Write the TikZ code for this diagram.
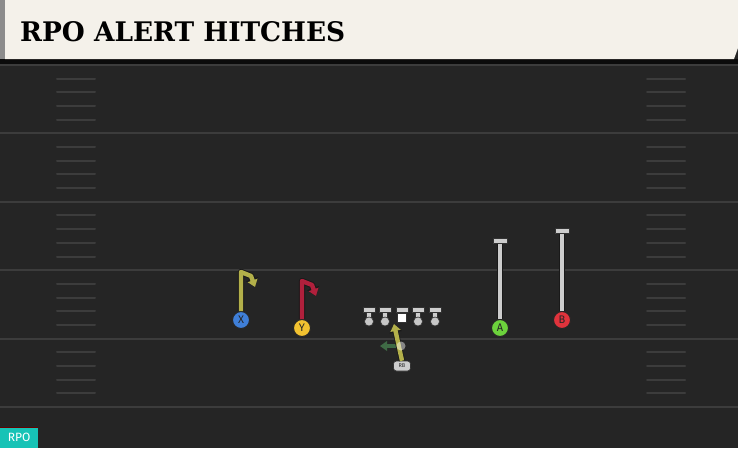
\documentclass[tikz,border=0pt]{standalone}
\usepackage{fontspec}
\usepackage{graphicx}
\setsansfont{Fira Sans}
\newfontfamily\titlefont{DejaVu Serif}
\usetikzlibrary{arrows.meta}

\definecolor{field}{HTML}{252525}
\definecolor{yard}{HTML}{3C3C3C}
\definecolor{banner}{HTML}{F4F1EA}
\definecolor{olive}{HTML}{B3B04A}
\definecolor{crimson}{HTML}{B0203C}
\definecolor{optgreen}{HTML}{3F6A45}
\definecolor{routegrey}{HTML}{CDCDCD}
\definecolor{xblue}{HTML}{3F7FD8}
\definecolor{yyellow}{HTML}{F2C230}
\definecolor{agreen}{HTML}{6CD23C}
\definecolor{bred}{HTML}{E0333C}
\definecolor{rpoteal}{HTML}{17C3B6}

\begin{document}
\begin{tikzpicture}[
		x=1pt,
		y=-1pt,
		line join=round,
		yardline/.style={draw=yard, line width=2pt},
		hashmark/.style={draw=yard, line width=2pt, line cap=round},
		player/.style={circle, draw=black!85, line width=1pt, minimum size=17pt, inner sep=0pt,
			font=\sffamily\fontsize{11}{11}\selectfont, text=black!85},
		routeline/.style={line width=4.4pt},
		routeedge/.style={line width=6.4pt, draw=black!90},
		tipin/.style={-{Triangle[length=7pt,width=10pt]}},
		tipout/.style={-{Triangle[length=8.5pt,width=12.5pt]}},
		olpiece/.style={fill=routegrey, draw=black!80, line width=0.7pt}
	]

	% Field and frame
	\useasboundingbox (0,0) rectangle (738,448);
	\fill[field] (0,0) rectangle (738,448);
	\fill[black!70!field] (0,59) rectangle (738,64);
	\fill[black!45] (0,0) rectangle (5,59);
	\fill[banner] (5,0) -- (738,0) -- (738,48) -- (734,59) -- (5,59) -- cycle;
	\node[anchor=west, inner sep=0pt] (title) at (20,32)
		{\resizebox{325pt}{20pt}{\titlefont\bfseries RPO ALERT HITCHES}};

	% Yard lines and hashes
	\foreach \i in {0,...,5}
		\draw[yardline] (0,65+68.4*\i) -- (738,65+68.4*\i);
	\foreach \i in {0,...,4}
		\foreach \k in {1,...,4}{
			\draw[hashmark] (57,65+68.4*\i+13.68*\k) -- (95,65+68.4*\i+13.68*\k);
			\draw[hashmark] (647,65+68.4*\i+13.68*\k) -- (685,65+68.4*\i+13.68*\k);
		}

	% Receivers
	\node[player, fill=xblue] (X) at (241,320) {X};
	\node[player, fill=yyellow] (Y) at (302,328) {Y};
	\node[player, fill=agreen] (A) at (500,328) {A};
	\node[player, fill=bred] (B) at (562,320) {B};

	% Hitch routes
	\coordinate (xtop) at (241,272);
	\coordinate (xend) at (255,287);
	\draw[routeedge, tipout] (X.north) -- (xtop) -- (251,276) -- (xend);
	\draw[routeline, olive, tipin] (X.north) -- (xtop) -- (251,276) -- (xend);
	\coordinate (ytop) at (302,281);
	\coordinate (yend) at (316,296);
	\draw[routeedge, tipout] (Y.north) -- (ytop) -- (312,285) -- (yend);
	\draw[routeline, crimson, tipin] (Y.north) -- (ytop) -- (312,285) -- (yend);

	% Stop routes
	\coordinate (atop) at (500,242);
	\coordinate (btop) at (562,232);
	\draw[routeedge] (A.north) -- (atop);
	\draw[routeline, routegrey] (A.north) -- (atop);
	\draw[olpiece] (493,238.5) rectangle (507,243.5);
	\draw[routeedge] (B.north) -- (btop);
	\draw[routeline, routegrey] (B.north) -- (btop);
	\draw[olpiece] (555,228.5) rectangle (569,233.5);

	% Offensive line
	\foreach \name/\xx in {lt/369,lg/385,rg/418,rt/435}{
		\draw[olpiece] (\xx-2.2,312) rectangle (\xx+2.2,318);
		\node[circle, fill=black!22, draw=black!80, line width=0.6pt, minimum size=9pt, inner sep=0pt]
			(\name) at (\xx,321.5) {};
		\draw[olpiece] (\xx-6,307.5) rectangle (\xx+6,312.5);
	}
	\draw[olpiece] (399.8,312) rectangle (404.2,315);
	\node[fill=white, draw=black!80, line width=0.6pt, minimum size=8.5pt, inner sep=0pt] (C) at (402,318) {};
	\draw[olpiece] (396,307.5) rectangle (408,312.5);

	% Running back and option
	\node[rounded corners=3pt, fill=routegrey, draw=black!80, line width=0.6pt, minimum width=17pt,
		minimum height=10pt, inner sep=0pt, font=\sffamily\fontsize{5.5}{5.5}\selectfont, text=black!85]
		(RB) at (402,366) {RB};
	\coordinate (mesh) at (401,346);
	\coordinate (alert) at (380,346);
	\draw[line width=3.4pt, optgreen, -{Triangle[length=7pt,width=9.5pt]}] (mesh) -- (alert);
	\draw[line width=6pt, black!90, -{Triangle[length=8.5pt,width=12pt]}] (RB.north) -- (394,324);
	\draw[routeline, olive, -{Triangle[length=7pt,width=10pt]}] (RB.north) -- (394,324);
	\fill[white, opacity=0.45] (mesh) circle (4.5pt);

	% Tag
	\node[fill=rpoteal, anchor=south west, minimum width=38pt, minimum height=20pt, inner sep=0pt,
		font=\sffamily\fontsize{12}{12}\selectfont, text=white] (tag) at (0,448) {RPO};
	\draw[red!40!black, line width=0.8pt] (tag.north west) -- (tag.north east);

\end{tikzpicture}
\end{document}
